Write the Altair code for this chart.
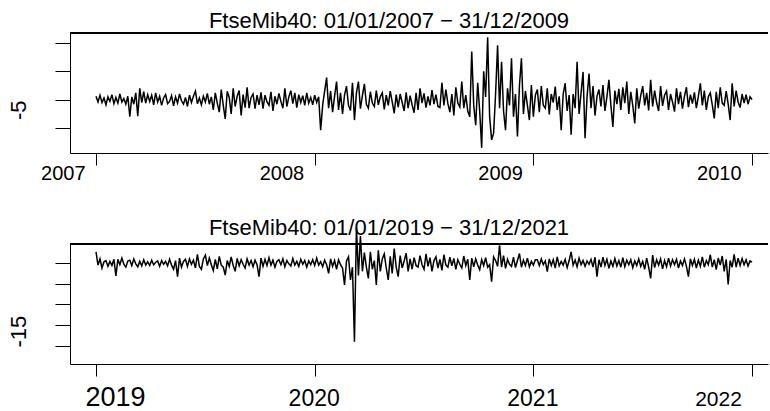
import altair as alt
import numpy as np
import pandas as pd

# --- data (daily log-returns, %) ---
top_title = "FtseMib40: 01/01/2007 \u2212 31/12/2009"
bot_title = "FtseMib40: 01/01/2019 \u2212 31/12/2021"

top_start, top_end = 2007.0, 2010.0
bot_start, bot_end = 2019.0, 2022.0

top_returns = [
    0.6, -0.4, 0.8, -0.5, 0.3, -0.9, 0.5, -0.3, 0.9, -0.7, 0.4, -0.6, 1.0, -0.4, 0.2, -0.8, 0.6,
    -3.0, 0.5, -0.8, 1.2, -2.9, 2.0, -0.5,
    1.4, -0.6, 0.9, -0.3, 0.8, -0.9, 1.2, -0.4, 0.6, -1.0, 0.3, 0.9, -0.7, -0.3, 0.7, -1.1, 0.5, -0.6, 1.0, -0.2,
    -0.8, 0.4, -1.2, 0.8, -0.5, 0.6, 1.5, -0.7, 0.3, -0.9, 0.6, -0.4, 1.1, -0.8, 0.5,
    -1.8, 1.2, -0.6, -2.2, 1.8, -1.0, -3.4, 1.5, 0.4, -2.5, 2.0, -1.2, 0.6, 1.6, -2.8, 0.9, -1.4, 2.2, -1.5, 0.4,
    1.0, -1.6, 0.8,
    -0.9, 1.3, -1.6, 0.8, -0.4, -1.0, 1.4, -2.0, 0.6, -0.8, 1.1, -0.3, -1.5, 2.0, -1.2, 0.5, 1.6, -0.7, 1.2, -1.4,
    0.9, -0.5, 0.7, -1.0, 1.2, -0.6, 0.4, -0.9, 0.8, -0.5,
    0.5, -5.4, -1.0, 1.5, 3.9, -1.5,
    1.5, -2.2, 0.6, 3.2, -1.8, 1.2, -2.5, 0.8, 2.4, -1.0, -1.9, 3.0, -3.6, 1.2, 3.2, -1.6, 0.7, 2.8, -0.8, -1.5,
    1.4, -0.6,
    -1.2, 1.6, -0.9, 0.5, 1.2, -1.7, 0.8, -1.0, 1.5, -0.4, -2.4, 0.9, -1.3, 1.0, -0.5, -2.0, 1.3, -1.5, 0.7, -0.9,
    -2.3, 1.2, -1.8, 2.0, -0.6, 1.1, -1.4, 0.6, -1.0, 1.7, -0.8, 0.9, -1.2,
    -1.4, 3.0, -1.0, 1.8, -0.7, -2.2, 1.0, -2.8, 2.2, -0.6, -1.3, 3.2, -1.5, 0.8, -2.0,
    -3.0, 8.5, -1.0, -4.5, 3.0, -2.0, -8.5, 5.0, 0.5, 11.0, -3.0, -7.1,
    -5.9, 1.0, 9.6, -1.5, 6.7, -2.0, -5.4, 2.0, -1.0, 7.3, -3.0, 1.0, -6.5, 2.5, 7.3, -2.5, 1.5, -1.0, -3.6,
    2.6, -3.0, 0.8, 1.8, -2.2, 2.4, -1.0, -1.5, 2.0, -2.6, 1.0, -0.5, 2.3, -1.8, 0.6,
    -5.4, 1.0, 2.9, -2.0, 0.8, -6.2, 1.0, -1.5, 6.7, -2.5, 1.2, 4.9, -6.8, 0.5, 4.6,
    -1.5, 2.4, -2.8, 0.6, 1.8, -1.2, 2.6, -2.0, 0.5, 3.5, -1.0, -4.8, 1.6, -0.8, 1.9,
    -1.8, 2.2, -0.6, 3.2, -2.5, 1.4, -1.0, -4.2, 2.0, -1.6, 0.7, 2.4, -1.0, 1.2, -1.9,
    3.5, -1.2, 1.6, -0.5, -2.0, 2.4, -1.1, 0.8, 1.5, -1.8, 1.0, -0.4, -2.1, 2.0, -0.8, 1.4, -1.6, 0.6, 2.2, -1.3,
    0.9, -0.7, 1.3, -1.5, 0.6,
    2.9, -1.0, 1.6, -1.8, 0.5, 1.2, -0.9, -3.3, 1.4, -1.5, 2.2, -0.6, -1.0, 1.5, -0.8, -3.6, 2.9, -1.2, 1.6, -0.4,
    -1.4, 1.0, -0.6, 0.9, -0.8, 0.5, 0.0,
]

bot_returns = [
    2.7, -0.5, 1.0, -1.2, 0.3, 0.6, -0.8, 0.4, -0.6, 0.9, -3.1, 0.9, -0.4, 1.2, -0.3, -1.0, 0.5,
    0.7, -0.6, 1.0, -0.2, -0.9, 0.4, -0.7, 0.8, -0.5, 0.3, -0.6, 0.7, -0.4, 0.2, 0.5, -0.8, 0.6, -0.3, 0.4, -0.7,
    0.9, -0.5, -1.5, 0.6, -3.3,
    1.2, -1.0, 0.4, 0.9, -0.8, 1.0, -0.3, 0.7, -1.2, 2.1, -0.8, -1.5, 1.0, 1.9, -0.6, 1.2, -0.4, -1.8, 0.9, -1.4,
    1.6, -0.5, -1.0, -2.9, 0.6, -0.8, 1.5, -0.6, -2.0, 1.1, -0.7, 0.8, -0.3, -1.2, 1.0, -0.5, 0.6, -0.9, 0.7, -0.4,
    -3.3,
    1.2, -0.8, 0.9, -0.6, 1.3, -0.5, 0.7, -1.0, 0.4, 0.8, -0.4, 1.0, -0.9, 0.6, -0.2, -0.7, 1.1, -0.5, 0.4, -0.8,
    0.9, -0.3, 0.6, -1.0, 0.5, -0.4, 0.8, -0.6, 1.2, -0.5, 0.3, -0.9, 0.7, -0.4,
    -2.5, 1.0, -0.8, 0.6, -1.5, 0.8, -0.4, -1.2, -5.3, 0.5, 1.5, -4.1, -1.0, -19.0, 8.5, -3.0, 6.5, -2.0,
    2.5, -1.0, -3.7, 2.7, -1.5, 0.6, -5.3, 3.1, -2.0, 1.0, 2.2, -1.2, -4.1, 1.6, -2.5, 3.5, -1.0, -3.3, 1.8, -1.2,
    0.5, 2.4, -2.0, 1.0, -1.5, 1.3, -0.6,
    -1.0, 1.8, -0.4, -1.5, 2.2, -0.8, 1.3, -2.0, 0.6, 1.5, -1.2, 0.9, -1.8, 2.0, -0.5, -1.0, 1.4, -0.7, 1.1, -1.5,
    0.8, -0.3, -1.2, 1.7, -0.6, 0.9, -4.1, 1.2, -0.9, 1.0, -0.5, -1.6, 0.8, -0.6, 1.3, -1.0, -0.4, -4.5, 1.5, 0.6,
    -0.8, 4.3, -1.0, 1.8, -1.3, 0.9, -0.3, -0.8, 1.4, -1.1, 0.6, 2.3, -1.0, 0.7, -0.6, 1.2, -0.9, 0.4, -0.5, 0.8,
    0.8, -0.6, 1.0, -0.4, 0.5, -2.1, 1.0, -0.6, 0.8, -1.2, 1.5, -0.7, 0.4, -0.5, 0.9, -1.1, 0.6, 2.7,
    -0.5, 0.7, -0.9, 1.2, -0.4, 0.6, -0.8, 0.5, -0.3, 0.9, -1.0, 1.4, -3.3,
    0.8, -1.0, 1.4, -0.6, 0.9, -1.3, 0.5, -0.8, 1.1, -0.7, 0.6, -1.0, 1.3, -0.9, 0.7, -0.4, 0.8, -1.1, 0.5, -0.6,
    1.0, -0.8, 0.4, -1.5, 1.2, -1.0, -3.7, 1.9,
    -1.1, 0.8, -0.5, 1.0, -1.4, 0.6, -0.9, 1.2, -0.7, 0.8, -0.4, 0.9, -1.2, 0.5, -0.6, 1.0, -0.8, -3.3,
    1.0, -0.6, 0.9, -1.2, 0.7, -0.8, 1.5, -1.0, 0.6, -0.4, 2.0, -1.0, 0.8, -1.6, 1.2, -0.5, 1.7, -2.0, 0.9,
    -5.2, 0.6, -1.0, 2.1, -1.0, 1.2, -0.6, 1.1, -0.4, 0.8, -0.7, 0.5, 0.2,
]

top_years = [2007, 2008, 2009, 2010]
bot_years = [2019, 2020, 2021, 2022]
top_yticks = [10, 5, 0, -5]
bot_yticks = [0, -5, -10, -15, -20]

top_df = pd.DataFrame({"t": np.linspace(top_start, top_end, len(top_returns)), "r": top_returns})
bot_df = pd.DataFrame({"t": np.linspace(bot_start, bot_end, len(bot_returns)), "r": bot_returns})

W, H = 698, 120
FONT = "Liberation Sans"


def panel(df, title, years, yticks, xdom, ydom, ylabel_at, ylabel_text, bottom):
    title_p = alt.TitleParams(
        text=title, font=FONT, fontSize=22, fontWeight="normal", color="black",
        anchor="middle", dx=-30, dy=40 if bottom else 23, baseline="alphabetic", frame="group",
        offset=8 if bottom else 6,
    )
    if bottom:
        xaxis = alt.Axis(
            values=years, format="d", title=None, grid=False,
            domainColor="black", tickColor="black", tickSize=12,
            labelFont=FONT, labelColor="black",
            labelFontSize={"condition": [{"test": "datum.value == 2019", "value": 27},
                                         {"test": "datum.value == 2022", "value": 21}], "value": 23},
            labelAlign="center",
            labelOffset={"condition": [{"test": "datum.value == 2019", "value": 19},
                                       {"test": "datum.value == 2022", "value": -34}], "value": -1},
            labelBaseline="alphabetic", labelPadding=29,
        )
    else:
        xaxis = alt.Axis(
            values=years, format="d", title=None, grid=False,
            domainColor="black", tickColor="black", tickSize=12,
            labelFont=FONT, labelFontSize=20, labelColor="black",
            labelAlign="right", labelOffset=-11, labelBaseline="alphabetic", labelPadding=14,
        )
    yaxis = alt.Axis(
        values=yticks, title=None, grid=False,
        domainColor="black", tickColor="black", tickSize=15,
        labelExpr=f"datum.value == {ylabel_at} ? '{ylabel_text}' : ''",
        labelAngle=-90, labelAlign="center", labelBaseline="bottom",
        labelOffset=6 if bottom else 10,
        labelFont=FONT, labelFontSize=22, labelColor="black", labelPadding=25,
    )
    line = alt.Chart(df).mark_line(color="black", strokeWidth=1.5, clip=False).encode(
        x=alt.X("t:Q", scale=alt.Scale(domain=xdom, nice=False, zero=False), axis=xaxis),
        y=alt.Y("r:Q", scale=alt.Scale(domain=ydom, nice=False, zero=False), axis=yaxis),
    )
    topline = alt.Chart(df).mark_rule(color="black", strokeWidth=1).encode(
        x=alt.value(0), x2=alt.value(W), y=alt.value(0)
    )
    return alt.layer(line, topline).properties(width=W, height=H, title=title_p)


p1 = panel(top_df, top_title, top_years, top_yticks,
           [2006.881, 2010.073], [-9.41, 11.77], 0, "-5", False)
p2 = panel(bot_df, bot_title, bot_years, bot_yticks,
           [2018.881, 2022.073], [-24.4, 4.6], -15, "-15", True)

chart = alt.vconcat(p1, p2, spacing=91, bounds="flush").properties(
    padding={"left": 7, "top": 9, "right": 0, "bottom": 0},
    background="white",
).configure_view(stroke=None)

chart.save("out.html", embed_options={"renderer": "svg", "actions": False})
